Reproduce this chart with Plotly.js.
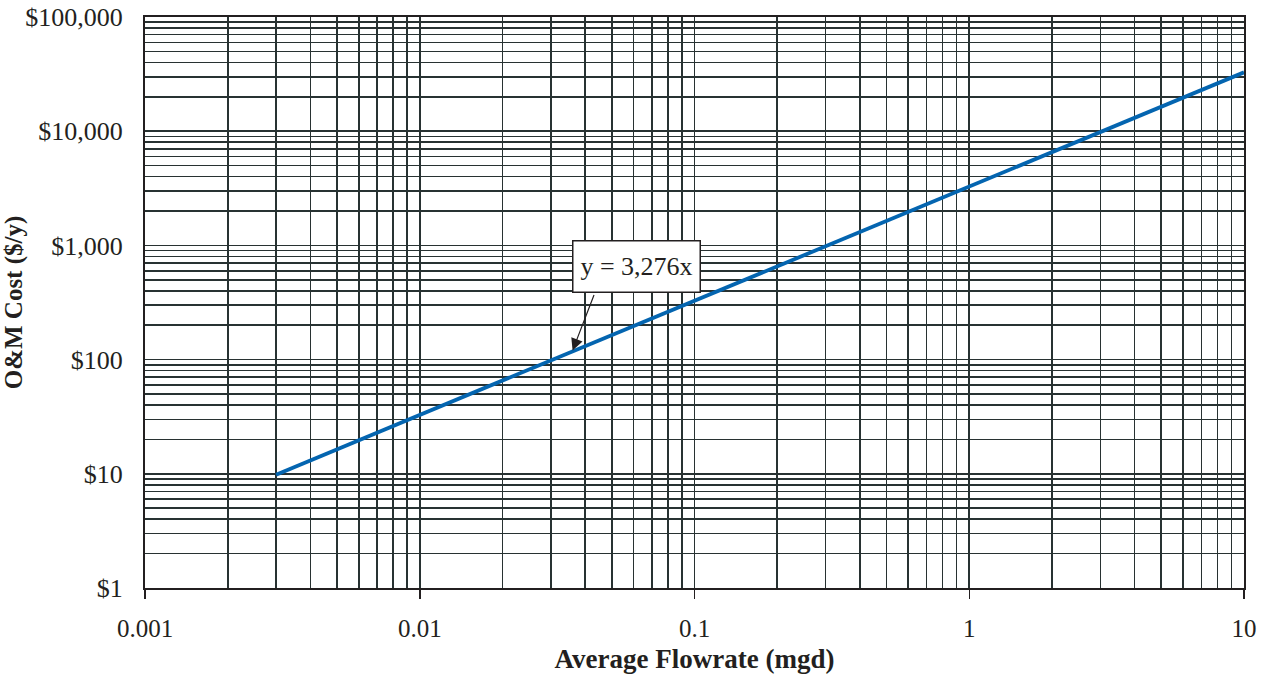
<!DOCTYPE html>
<html>
<head>
<meta charset="utf-8">
<script src="https://cdn.plot.ly/plotly-3.0.1.min.js"></script>
<style>html,body{margin:0;padding:0;background:#fff;}#chart{width:1271px;height:674px;}</style>
</head>
<body>
<div id="chart"></div>
<script>
// Data
const flowrate = [0.003, 10];          // mgd
const omCost   = [9.83, 32760];        // $/y  (y = 3,276x)
const xTickVals = [0.001, 0.01, 0.1, 1, 10];
const xTickText = ["0.001", "0.01", "0.1", "1", "10"];
const yTickVals = [1, 10, 100, 1000, 10000, 100000];
const yTickText = ["$1", "$10", "$100", "$1,000", "$10,000", "$100,000"];
const eqLabel = "y = 3,276x";
const arrowTip = [0.036, 120];
const labelPos = [0.0615, 660];

const serif = "Liberation Serif, Times New Roman, serif";
const gridCol = "#283232";
const ink = "#231f20";

const trace = {
  x: flowrate, y: omCost, type: "scatter", mode: "lines",
  line: {color: "#0465b0", width: 3.8}, showlegend: false, hoverinfo: "skip"
};

const layout = {
  width: 1271, height: 674,
  margin: {l: 145, r: 27, t: 17, b: 86},
  paper_bgcolor: "#ffffff", plot_bgcolor: "#ffffff",
  font: {family: serif, color: ink, size: 25},
  xaxis: {
    type: "log", range: [-3, 1], tickvals: xTickVals, ticktext: xTickText,
    showline: true, linecolor: ink, linewidth: 2, mirror: true,
    ticks: "outside", ticklen: 9, tickwidth: 1.5, tickcolor: ink,
    ticklabelstandoff: 8,
    showgrid: true, gridcolor: gridCol, gridwidth: 1.6,
    minor: {dtick: "D1", showgrid: true, gridcolor: gridCol, gridwidth: 1.6, ticks: ""},
    zeroline: false,
    tickfont: {family: serif, size: 25, color: ink},
    title: {text: "Average Flowrate (mgd)", font: {family: serif, size: 27, color: ink, weight: "bold"}, standoff: 9}
  },
  yaxis: {
    type: "log", range: [0, 5], tickvals: yTickVals, ticktext: yTickText,
    showline: true, linecolor: ink, linewidth: 2, mirror: true,
    ticks: "", ticklabelstandoff: 15,
    showgrid: true, gridcolor: gridCol, gridwidth: 1.6,
    minor: {dtick: "D1", showgrid: true, gridcolor: gridCol, gridwidth: 1.6, ticks: ""},
    zeroline: false,
    tickfont: {family: serif, size: 26, color: ink},
    title: {text: "O&M Cost ($/y)", font: {family: serif, size: 25, color: ink, weight: "bold"}, standoff: 0}
  },
  annotations: [
    {
      x: Math.log10(labelPos[0]), y: Math.log10(labelPos[1]), xref: "x", yref: "y",
      text: eqLabel, showarrow: false, width: 124, height: 48,
      bgcolor: "#ffffff", bordercolor: ink, borderwidth: 1.5,
      font: {family: serif, size: 26, color: ink}
    },
    {
      x: Math.log10(arrowTip[0]), y: Math.log10(arrowTip[1]), xref: "x", yref: "y",
      text: "", showarrow: true, ax: 22, ay: -57,
      arrowhead: 2, arrowsize: 2, arrowwidth: 1.2, arrowcolor: ink
    }
  ]
};

Plotly.newPlot("chart", [trace], layout, {displayModeBar: false, staticPlot: true});
</script>
</body>
</html>
